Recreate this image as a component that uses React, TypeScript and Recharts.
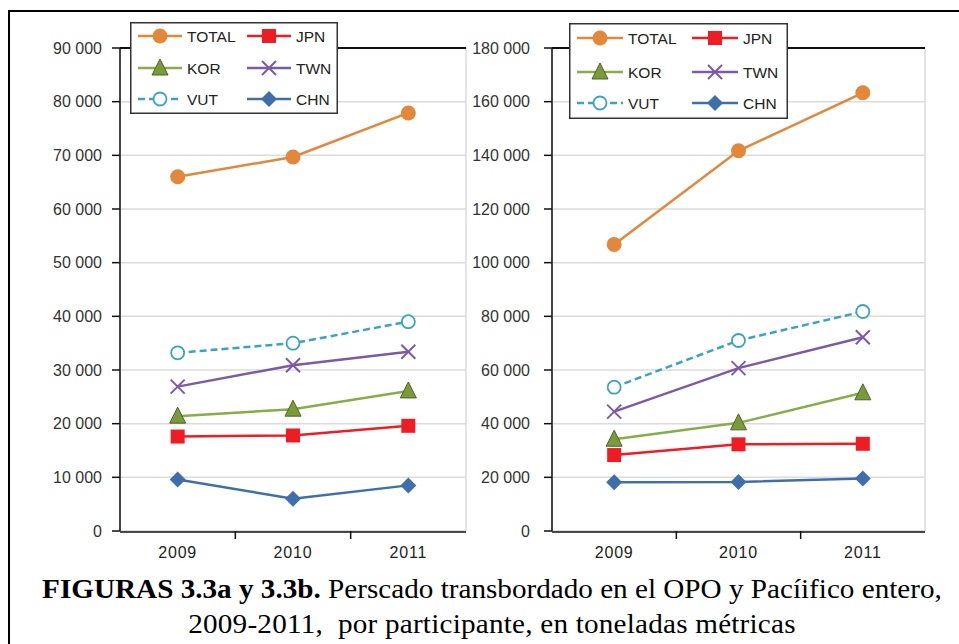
import React from "react";
import {
  LineChart,
  Line,
  XAxis,
  YAxis,
  CartesianGrid,
  ReferenceLine,
  ReferenceArea,
} from "recharts";

const years = [2009, 2010, 2011];
const sepTicks = [2009.5, 2010.5];

// FIGURA 3.3a (OPO)
const totalA = [66000, 69700, 77900];
const jpnA = [17600, 17800, 19600];
const korA = [21400, 22700, 26100];
const twnA = [26900, 30900, 33400];
const vutA = [33200, 35000, 39000];
const chnA = [9600, 6000, 8500];
const ticksA = [0, 10000, 20000, 30000, 40000, 50000, 60000, 70000, 80000, 90000];

// FIGURA 3.3b (Pacifico entero)
const totalB = [106800, 141700, 163300];
const jpnB = [28300, 32300, 32500];
const korB = [34200, 40300, 51500];
const twnB = [44500, 60700, 72200];
const vutB = [53600, 71000, 81800];
const chnB = [18200, 18300, 19600];
const ticksB = [0, 20000, 40000, 60000, 80000, 100000, 120000, 140000, 160000, 180000];

const series = [
  { key: "TOTAL", color: "#E3873A", kind: "circle", dash: undefined },
  { key: "JPN", color: "#EE1D24", kind: "square", dash: undefined },
  { key: "KOR", color: "#86AE48", kind: "triangle", dash: undefined },
  { key: "TWN", color: "#7B5BA6", kind: "x", dash: undefined },
  { key: "VUT", color: "#3AA3C2", kind: "open", dash: "7 4" },
  { key: "CHN", color: "#3F6FAA", kind: "diamond", dash: undefined },
];

const build = (cols: number[][]) =>
  years.map((y, i) => ({
    year: y,
    TOTAL: cols[0][i],
    JPN: cols[1][i],
    KOR: cols[2][i],
    TWN: cols[3][i],
    VUT: cols[4][i],
    CHN: cols[5][i],
  }));

const dataA = build([totalA, jpnA, korA, twnA, vutA, chnA]);
const dataB = build([totalB, jpnB, korB, twnB, vutB, chnB]);

const FONT = "'Liberation Sans', Arial, sans-serif";
const fmt = (v: number) => String(v).replace(/\B(?=(\d{3})+(?!\d))/g, " ");

const Marker = ({ cx, cy, kind, color }: any) => {
  if (cx == null || cy == null) return null;
  switch (kind) {
    case "circle":
      return <circle cx={cx} cy={cy} r={7.5} fill={color} />;
    case "square":
      return <rect x={cx - 7} y={cy - 7} width={14} height={14} fill={color} />;
    case "triangle":
      return (
        <polygon
          points={`${cx},${cy - 9} ${cx + 8},${cy + 7} ${cx - 8},${cy + 7}`}
          fill="#7A9A3C"
          stroke="#4F6228"
          strokeWidth={1}
        />
      );
    case "x":
      return (
        <path
          d={`M${cx - 7},${cy - 7}L${cx + 7},${cy + 7}M${cx - 7},${cy + 7}L${cx + 7},${cy - 7}`}
          stroke={color}
          strokeWidth={2}
        />
      );
    case "open":
      return <circle cx={cx} cy={cy} r={6.5} fill="#fff" stroke={color} strokeWidth={1.8} />;
    case "diamond":
      return (
        <polygon
          points={`${cx},${cy - 8} ${cx + 8},${cy} ${cx},${cy + 8} ${cx - 8},${cy}`}
          fill={color}
        />
      );
  }
  return null;
};

interface LegendBoxProps {
  left: number;
  top: number;
  width: number;
  height: number;
  rows: number[];
  cols: { icon: number; len: number; text: number }[];
}

const LegendBox = ({ left, top, width, height, rows, cols }: LegendBoxProps) => (
  <svg
    width={width}
    height={height}
    style={{ position: "absolute", left, top, overflow: "visible" }}
  >
    <rect x={0.75} y={0.75} width={width - 1.5} height={height - 1.5} fill="#fff" stroke="#333" strokeWidth={1.5} />
    {series.map((s, i) => {
      const r = rows[Math.floor(i / 2)];
      const c = cols[i % 2];
      const mid = c.icon + c.len / 2;
      return (
        <g key={s.key}>
          <line
            x1={c.icon}
            x2={c.icon + c.len}
            y1={r}
            y2={r}
            stroke={s.color}
            strokeWidth={2.5}
            strokeDasharray={s.dash}
          />
          <Marker cx={mid} cy={r} kind={s.kind} color={s.color} />
          <text x={c.text} y={r} dy="0.36em" fontFamily={FONT} fontSize={15.5} fill="#222">
            {s.key}
          </text>
        </g>
      );
    })}
  </svg>
);

interface PanelProps {
  data: any[];
  ticks: number[];
  max: number;
  left: number;
  width: number;
  yWidth: number;
  margin: { top: number; right: number; left: number; bottom: number };
  tickMargin: number;
}

const Panel = ({ data, ticks, max, left, width, yWidth, margin, tickMargin }: PanelProps) => (
  <div style={{ position: "absolute", left, top: 0 }}>
    <LineChart width={width} height={580} data={data} margin={margin}>
      <CartesianGrid xAxisId="years" vertical={false} stroke="#dcdcdc" strokeWidth={1.5} />
      <ReferenceArea xAxisId="years" y1={0} y2={max} fill="none" stroke="#dcdcdc" strokeWidth={1.5} />
      {/* tick marks between the categories */}
      <XAxis
        xAxisId="sep"
        dataKey="year"
        type="number"
        domain={[2008.5, 2011.5]}
        ticks={sepTicks}
        interval={0}
        tickFormatter={() => ""}
        axisLine={false}
        tickLine={{ stroke: "#111", strokeWidth: 1.5 }}
        tickSize={8}
        height={1}
      />
      <XAxis
        xAxisId="years"
        dataKey="year"
        type="number"
        domain={[2008.5, 2011.5]}
        ticks={years}
        interval={0}
        tickLine={false}
        axisLine={{ stroke: "#111", strokeWidth: 1.5 }}
        tick={{ fill: "#222", fontSize: 16, fontFamily: FONT, letterSpacing: 0.8 }}
        tickMargin={9}
        height={29}
      />
      <YAxis
        domain={[0, max]}
        ticks={ticks}
        interval={0}
        width={yWidth}
        tickFormatter={fmt}
        tickSize={8}
        tickMargin={tickMargin}
        axisLine={{ stroke: "#111", strokeWidth: 1.5 }}
        tickLine={{ stroke: "#111", strokeWidth: 1.5 }}
        tick={{ fill: "#333", fontSize: 16, fontFamily: FONT }}
      />
      <ReferenceLine xAxisId="years" y={max} stroke="#111" strokeWidth={2} />
      {series.map((s) => (
        <Line
          key={s.key}
          xAxisId="years"
          dataKey={s.key}
          stroke={s.color}
          strokeWidth={2.5}
          strokeDasharray={s.dash}
          isAnimationActive={false}
          dot={(p: any) => <Marker key={`${s.key}-${p.index}`} cx={p.cx} cy={p.cy} kind={s.kind} color={s.color} />}
          activeDot={false}
        />
      ))}
    </LineChart>
  </div>
);

export default function App() {
  return (
    <div style={{ position: "absolute", left: 0, top: 0, width: 959, height: 644, overflow: "hidden", background: "#fff" }}>
      <div
        style={{
          position: "absolute",
          left: 8,
          top: 10,
          width: 960,
          height: 640,
          borderLeft: "2px solid #000",
          borderTop: "2px solid #000",
        }}
      />
      <Panel
        data={dataA}
        ticks={ticksA}
        max={90000}
        left={0}
        width={470}
        yWidth={80}
        margin={{ top: 48, right: 4, left: 40, bottom: 19 }}
        tickMargin={10}
      />
      <Panel
        data={dataB}
        ticks={ticksB}
        max={180000}
        left={470}
        width={489}
        yWidth={82}
        margin={{ top: 48, right: 34, left: 0, bottom: 19 }}
        tickMargin={14}
      />
      <LegendBox
        left={130}
        top={22}
        width={208}
        height={92}
        rows={[14, 46, 77]}
        cols={[
          { icon: 8, len: 44, text: 57 },
          { icon: 117, len: 44, text: 166 },
        ]}
      />
      <LegendBox
        left={569}
        top={23}
        width={219}
        height={96}
        rows={[15, 49, 80]}
        cols={[
          { icon: 8, len: 46, text: 59 },
          { icon: 123, len: 46, text: 174 },
        ]}
      />
      <div
        style={{
          position: "absolute",
          left: 16,
          top: 572,
          width: 952,
          textAlign: "center",
          fontFamily: "'Liberation Serif', 'Times New Roman', serif",
          fontSize: 27,
          lineHeight: "35px",
          color: "#000",
          transform: "scaleX(1.08)",
          transformOrigin: "center",
        }}
      >
        <div>
          <b>FIGURAS 3.3a y 3.3b.</b> Perscado transbordado en el OPO y Pacíifico entero,
        </div>
        <div style={{ letterSpacing: 0.2 }}>2009-2011,&nbsp; por participante, en toneladas métricas</div>
      </div>
    </div>
  );
}
